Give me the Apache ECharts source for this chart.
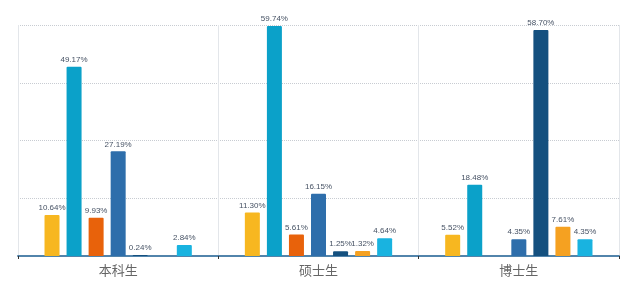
<!DOCTYPE html>
<html>
<head>
<meta charset="utf-8">
<script src="https://cdn.jsdelivr.net/npm/echarts@6/dist/echarts.min.js"></script>
<style>
html, body { margin: 0; padding: 0; background: #fff; }
#main { width: 640px; height: 286px; }
</style>
</head>
<body>
<div id="main"></div>
<script>
var categories = ['本科生', '硕士生', '博士生'];
var seriesNames = ['类别1', '类别2', '类别3', '类别4', '类别5', '类别6', '类别7'];
// one array per series, in category order; null = no bar
var s1 = [10.64, 11.30, 5.52];
var s2 = [49.17, 59.74, 18.48];
var s3 = [9.93, 5.61, null];
var s4 = [27.19, 16.15, 4.35];
var s5 = [0.24, 1.25, 58.70];
var s6 = [null, 1.32, 7.61];
var s7 = [2.84, 4.64, 4.35];
var allData = [s1, s2, s3, s4, s5, s6, s7];
var colors = ['#f7b720', '#0ba1c9', '#e8620b', '#2e6eab', '#14507f', '#f5a121', '#19b3e0'];

function bars() {
    var dom = document.getElementById("main");
    var myChart = echarts.init(dom);
    var series = [];
    for (var i = 0; i < allData.length; i++) {
        series.push({
            name: seriesNames[i],
            type: 'bar',
            barWidth: 15,
            barGap: '47%',
            itemStyle: { color: colors[i], borderRadius: [1, 1, 0, 0] },
            label: {
                show: true,
                position: 'top',
                distance: 3,
                color: '#465264',
                fontSize: 8,
                fontFamily: 'Arial',
                formatter: function (p) {
                    return p.value == null ? '' : p.value.toFixed(2) + '%';
                }
            },
            data: allData[i]
        });
    }
    var option = {
        animation: false,
        grid: { left: 18, right: 21, top: 25, bottom: 30 },
        xAxis: {
            type: 'category',
            data: categories,
            axisLine: { lineStyle: { color: '#5284ab', width: 2 } },
            axisTick: { show: true, length: 3, lineStyle: { color: '#333' } },
            axisLabel: { color: '#666', fontSize: 13, margin: 8, fontFamily: 'Noto Sans CJK SC' },
            splitLine: { show: true, lineStyle: { color: '#e3e6ea', width: 1 } }
        },
        yAxis: {
            type: 'value',
            min: 0,
            max: 60,
            interval: 15,
            axisLine: { show: false },
            axisTick: { show: false },
            axisLabel: { show: false },
            splitLine: { lineStyle: { color: '#c8ccd2', type: 'dotted' } }
        },
        series: series
    };
    myChart.setOption(option, true);
    window.onresize = myChart.resize;
}
bars();
</script>
</body>
</html>
